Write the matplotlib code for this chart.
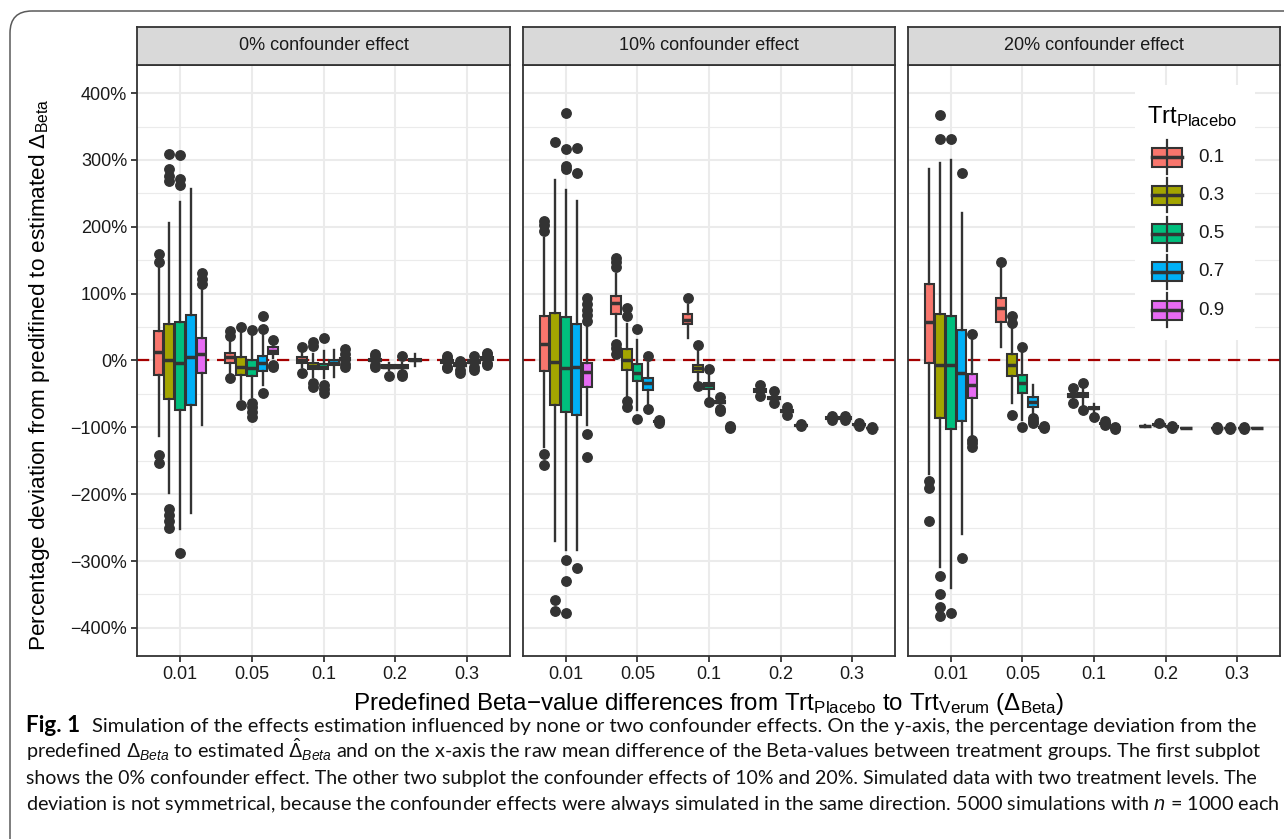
import matplotlib
matplotlib.use("Agg")
import matplotlib.pyplot as plt
from matplotlib.patches import FancyBboxPatch, Rectangle
from matplotlib.lines import Line2D
from matplotlib.ticker import FixedLocator

plt.rcParams['font.family'] = ['Liberation Sans', 'DejaVu Sans']
plt.rcParams['mathtext.fontset'] = 'custom'
plt.rcParams['mathtext.rm'] = 'Liberation Sans'
plt.rcParams['mathtext.it'] = 'Liberation Sans:italic'
plt.rcParams['mathtext.bf'] = 'Liberation Sans:bold'

W, H, DPI = 1284, 839, 100

# ---------------- data ----------------
DELTAS = ["0.01", "0.05", "0.1", "0.2", "0.3"]
PLACEBO = ["0.1", "0.3", "0.5", "0.7", "0.9"]
COLORS = ["#F8766D", "#A3A500", "#00BF7D", "#00B0F6", "#E76BF3"]
PANELS = ["0% confounder effect", "10% confounder effect", "20% confounder effect"]
Y_TICKS = [-400, -300, -200, -100, 0, 100, 200, 300, 400]

# (delta index, placebo index, whisker low, q1, median, q3, whisker high, outliers)
BOX_0 = [
    (0, 0, -113, -22, 13, 44, 138, [160, 147, -142, -153]),
    (0, 1, -198, -57, 0, 54, 206, [309, 287, 276, 268, -222, -231, -240, -250]),
    (0, 2, -252, -74, -4, 57, 237, [308, 272, 262, -288]),
    (0, 3, -228, -66, 5, 68, 257, []),
    (0, 4, -97, -19, 9, 34, 112, [131, 122, 115]),
    (1, 0, -20, -3, 5, 11, 30, [44, 36, -26]),
    (1, 1, -57, -21, -10, 5, 46, [50, -66]),
    (1, 2, -55, -23, -11, 1, 40, [46, -63, -70, -77, -84]),
    (1, 3, -37, -15, -3, 6, 38, [67, 47, -48]),
    (1, 4, 3, 9, 14, 20, 27, [31, -6, -9]),
    (2, 0, -10, -3, 1, 5, 12, [20, -18]),
    (2, 1, -25, -13, -8, -3, 10, [28, 21, -34, -40]),
    (2, 2, -26, -13, -9, -5, 14, [34, -37, -43, -49]),
    (2, 3, -25, -7, -3, 0, 15, []),
    (2, 4, -2, 0, 1, 3, 6, [17, 10, -5, -9]),
    (3, 0, -4, -1, 1, 2, 5, [10, 6, -7, -10]),
    (3, 1, -14, -11, -9, -7, -4, [-23]),
    (3, 2, -14, -11, -9, -7, -4, [6, -20, -23]),
    (3, 3, -8, -1, 0, 2, 9, []),
    (4, 0, -6, -3, -1, 1, 2, [6, 4, -9, -11]),
    (4, 1, -11, -8, -6, -4, -3, [-1, -14, -18]),
    (4, 2, -7, -4, -2, 0, 3, [6, -10, -14]),
    (4, 3, -1, 1, 3, 5, 7, [11, 9, -4, -6]),
]

BOX_10 = [
    (0, 0, -130, -16, 24, 67, 183, [209, 203, 193, -140, -156]),
    (0, 1, -270, -67, -2, 71, 270, [327, -358, -374]),
    (0, 2, -283, -77, -11, 65, 255, [370, 317, 291, 286, -298, -330, -377]),
    (0, 3, -283, -81, -9, 54, 238, [318, 280, -310]),
    (0, 4, -97, -39, -17, -3, 50, [94, 85, 76, 68, 59, -110, -144]),
    (1, 0, 36, 69, 86, 97, 129, [154, 148, 140, 24, 18, 10]),
    (1, 1, -54, -14, 1, 17, 55, [78, 67, -60, -70]),
    (1, 2, -74, -31, -19, -5, 31, [47, -87]),
    (1, 3, -66, -44, -33, -26, -3, [6, -73]),
    (1, 4, -92, -91.5, -91, -90.5, -90, [-89, -93]),
    (2, 0, 34, 54, 61, 69, 83, [93]),
    (2, 1, -31, -17, -11, -6, 14, [23, -38]),
    (2, 2, -54, -42, -37, -33, -20, [-13, -62]),
    (2, 3, -68, -64, -62, -60, -58, [-55, -73, -75]),
    (2, 4, -101, -100.5, -100, -99.5, -99, [-98, -101.5]),
    (3, 0, -50, -47, -44, -42, -39, [-36, -53]),
    (3, 1, -62, -58, -56, -54, -50, [-46, -64]),
    (3, 2, -79, -77, -75, -74, -72, [-70, -81]),
    (3, 3, -99, -98, -97, -96.5, -96, [-95, -98.5]),
    (4, 0, -88, -87, -86, -85, -84, [-83, -89]),
    (4, 1, -88, -87, -86, -85, -84, [-83, -88.5]),
    (4, 2, -97.5, -97, -96, -95.5, -95, [-94, -98]),
    (4, 3, -102, -101.5, -101, -100.5, -100, [-99.5, -102.5]),
]

BOX_20 = [
    (0, 0, -170, -3, 57, 115, 287, [-180, -190, -240]),
    (0, 1, -309, -86, -7, 70, 295, [367, 331, -322, -350, -369, -382]),
    (0, 2, -340, -102, -7, 67, 300, [331, -377]),
    (0, 3, -260, -90, -19, 45, 220, [281, -296]),
    (0, 4, -112, -56, -37, -20, 31, [40, -119, -124, -130]),
    (1, 0, 20, 58, 79, 94, 140, [147]),
    (1, 1, -63, -23, -7, 9, 50, [67, 56, -81]),
    (1, 2, -89, -49, -34, -22, 11, [20, -100]),
    (1, 3, -80, -69, -62, -54, -36, [-86, -90, -93]),
    (1, 4, -101, -100.5, -100, -99.5, -99, [-98.5, -101.5]),
    (2, 0, -60, -55, -53, -50, -45, [-41, -64]),
    (2, 1, -70, -55, -51, -49, -40, [-33, -74]),
    (2, 2, -80, -73, -71, -69, -65, [-85]),
    (2, 3, -96, -95, -94, -93, -92, [-91, -97]),
    (2, 4, -101.5, -101, -100.5, -100, -99.5, [-99, -102]),
    (3, 0, -99, -98.5, -98, -97.5, -97, []),
    (3, 1, -97, -96.5, -96, -95.5, -95, [-93]),
    (3, 2, -100, -99.5, -99, -98.5, -98, [-97.5, -100.5]),
    (3, 3, -101.5, -101.2, -101, -100.8, -100.5, []),
    (4, 0, -101.5, -101.2, -101, -100.8, -100.5, [-100, -102]),
    (4, 1, -101.5, -101.2, -101, -100.8, -100.5, [-100, -102]),
    (4, 2, -101.5, -101.2, -101, -100.8, -100.5, [-100, -102]),
    (4, 3, -101.5, -101.2, -101, -100.8, -100.5, []),
]
PANEL_DATA = [BOX_0, BOX_10, BOX_20]

# ---------------- layout helpers ----------------
fig = plt.figure(figsize=(W / DPI, H / DPI), dpi=DPI)
fig.patch.set_facecolor("white")


def px_axes(x0, y0, x1, y1):
    return fig.add_axes([x0 / W, 1 - y1 / H, (x1 - x0) / W, (y1 - y0) / H])


PANEL_X = [(137, 510), (523, 895), (908, 1280)]
PANEL_Y = (65, 656)
STRIP_Y = (27, 65)
DARK = "#333333"
GRID = "#EBEBEB"
TXT = "#1A1A1A"

for p, (x0, x1) in enumerate(PANEL_X):
    ax = px_axes(x0, PANEL_Y[0], x1, PANEL_Y[1])
    ax.set_facecolor("white")
    ax.set_xlim(0.4, 5.6)
    ax.set_ylim(-442, 442)
    ax.yaxis.set_major_locator(FixedLocator(Y_TICKS))
    ax.yaxis.set_minor_locator(FixedLocator([v + 50 for v in Y_TICKS[:-1]]))
    ax.set_xticks(range(1, len(DELTAS) + 1))
    ax.set_xticklabels(DELTAS)
    ax.set_yticklabels([("\u2212" if v < 0 else "") + f"{abs(v)}%" for v in Y_TICKS])
    ax.set_axisbelow(True)
    ax.grid(True, which="major", axis="both", color=GRID, lw=1.5, zorder=0)
    ax.grid(True, which="minor", axis="y", color=GRID, lw=0.8, zorder=0)
    ax.tick_params(axis="both", which="major", length=4, width=1.3, color=DARK,
                   labelsize=13, labelcolor=TXT, pad=3)
    ax.tick_params(axis="y", which="minor", length=0)
    if p > 0:
        ax.tick_params(axis="y", which="both", left=False, labelleft=False)
    for s in ax.spines.values():
        s.set_color(DARK)
        s.set_linewidth(1.3)

    ax.axhline(0, color="#A50000", lw=1.6, ls=(0, (5.5, 3.5)), zorder=1)

    boxes = PANEL_DATA[p]
    n_per = {}
    for b in boxes:
        n_per[b[0]] = max(n_per.get(b[0], 0), b[1] + 1)
    for (di, gi, lo, q1, med, q3, hi, fl) in boxes:
        n = n_per[di]
        slot = 0.75 / n
        pos = di + 1 + (gi - (n - 1) / 2) * slot
        st = dict(med=med, q1=q1, q3=q3, whislo=lo, whishi=hi, fliers=fl)
        ax.bxp([st], positions=[pos], widths=[slot * 0.9], patch_artist=True,
               showcaps=False, manage_ticks=False, zorder=3,
               boxprops=dict(facecolor=COLORS[gi], edgecolor=DARK, linewidth=1.5),
               medianprops=dict(color=DARK, linewidth=2.5, solid_capstyle="butt"),
               whiskerprops=dict(color=DARK, linewidth=1.7),
               flierprops=dict(marker="o", markerfacecolor=DARK, markeredgecolor=DARK,
                               markersize=6.8, linestyle="none"))

    sx = px_axes(x0, STRIP_Y[0], x1, STRIP_Y[1])
    sx.set_facecolor("#D9D9D9")
    sx.set_xticks([])
    sx.set_yticks([])
    for s in sx.spines.values():
        s.set_color(DARK)
        s.set_linewidth(1.3)
    sx.text(0.5, 0.5, PANELS[p], ha="center", va="center", fontsize=13, color=TXT,
            transform=sx.transAxes)

# ---------------- overlay (titles, legend, caption, frame) ----------------
ov = fig.add_axes([0, 0, 1, 1])
ov.set_xlim(0, W)
ov.set_ylim(H, 0)
ov.axis("off")
ov.set_zorder(10)

ov.add_patch(FancyBboxPatch((10, 11), 1320, 900,
                            boxstyle="round,pad=0,rounding_size=22",
                            fill=False, edgecolor="#5A5A5A", lw=1.1))

ov.text(709, 704, "Predefined Beta\u2212value differences from Trt$_{\\mathrm{Placebo}}$ to "
        "Trt$_{\\mathrm{Verum}}$ (\u0394$_{\\mathrm{Beta}}$)",
        ha="center", va="center", fontsize=17.4, color="black")
ov.text(40, 375, "Percentage deviation from predifined to estimated \u0394$_{\\mathrm{Beta}}$",
        ha="center", va="center", rotation=90, fontsize=16.2, color="black")

# legend
ov.add_patch(Rectangle((1135, 85), 120, 255, facecolor="white", edgecolor="none"))
ov.text(1147, 117, "Trt$_{\\mathrm{Placebo}}$", ha="left", va="center", fontsize=17,
        color="black")
for k, (lab, col) in enumerate(zip(PLACEBO, COLORS)):
    cy = 157 + k * 38.3
    ov.add_line(Line2D([1167, 1167], [cy - 17, cy + 17], color=DARK, lw=1.6))
    ov.add_patch(Rectangle((1152, cy - 9.5), 30, 19, facecolor=col, edgecolor=DARK, lw=1.5))
    ov.add_line(Line2D([1152, 1182], [cy, cy], color=DARK, lw=2.5))
    ov.text(1198, cy, lab, ha="left", va="center", fontsize=13.5, color=TXT)

# caption
CAP_FONT = ["Lato", "DejaVu Sans"]
cap_lines = [
    "Simulation of the effects estimation influenced by none or two confounder effects. "
    "On the y-axis, the percentage deviation from the",
    r"predefined $\Delta_{Beta}$ to estimated $\hat{\Delta}_{Beta}$ and on the x-axis the raw "
    "mean difference of the Beta-values between treatment groups. The first subplot",
    "shows the 0% confounder effect. The other two subplot the confounder effects of 10% "
    "and 20%. Simulated data with two treatment levels. The",
    "deviation is not symmetrical, because the confounder effects were always simulated "
    r"in the same direction. 5000 simulations with $n$ = 1000 each",
]
cap_x0 = [92, 26, 26, 26]
cap_x1 = [1256, 1262, 1256, 1276]
baselines = [732, 758, 784, 810]
fs = 11.0
texts = []
for line, x0, yb in zip(cap_lines, cap_x0, baselines):
    texts.append(ov.text(x0, yb, line, ha="left", va="baseline", fontsize=fs,
                         family=CAP_FONT, color="#111111"))
fig.canvas.draw()
r = fig.canvas.get_renderer()
sizes = []
for t, x0, x1 in zip(texts, cap_x0, cap_x1):
    w = t.get_window_extent(r).width
    s = fs * (x1 - x0) / w
    t.set_fontsize(s)
    sizes.append(s)
ov.text(26, baselines[0], "Fig. 1", ha="left", va="baseline", fontsize=sizes[0] * 1.12,
        fontweight="bold", family=CAP_FONT, color="black")

fig.savefig("out.png", dpi=DPI, facecolor="white")
